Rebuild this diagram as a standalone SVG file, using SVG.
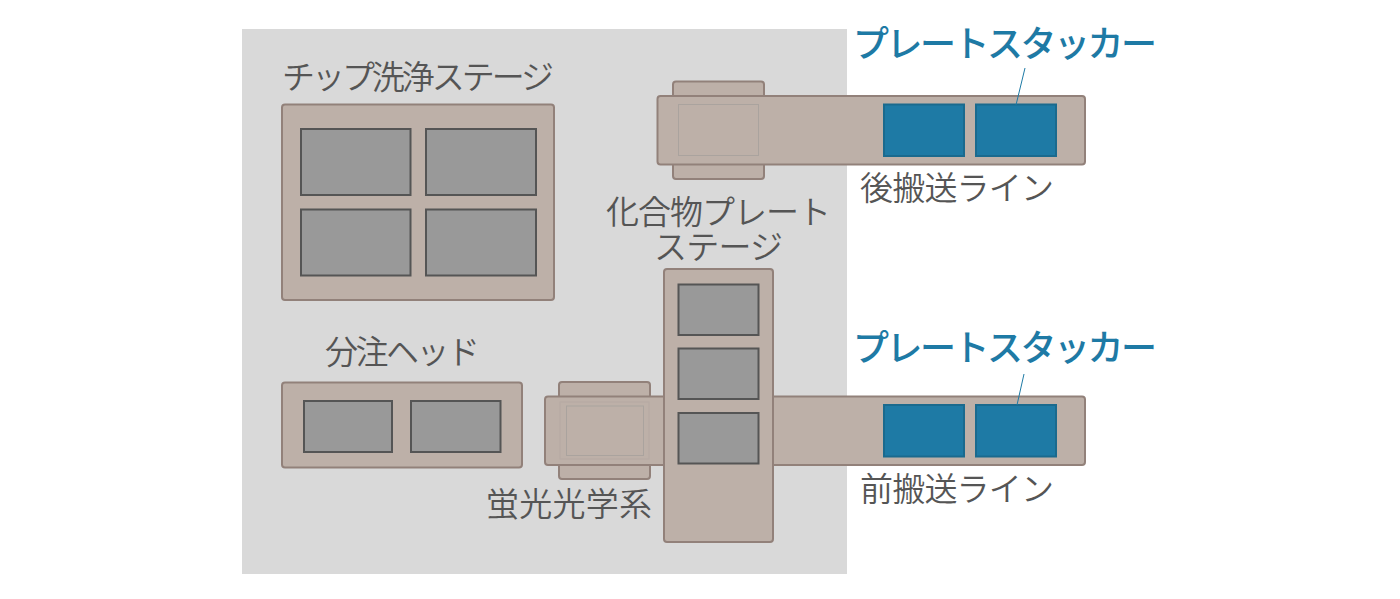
<svg xmlns="http://www.w3.org/2000/svg" width="1400" height="599" viewBox="0 0 1400 599">
<style>
.b{fill:#bdb0a8;stroke:#92817a;stroke-width:2}
.g{fill:#999;stroke:#555;stroke-width:2}
.s{fill:#1e7aa5;stroke:#1a6a8e;stroke-width:2}
.t{font-family:"Noto Sans CJK JP","Noto Sans",sans-serif;font-size:33px;fill:#555;font-weight:350}
.h{font-family:"Noto Sans CJK JP","Noto Sans",sans-serif;font-size:36px;fill:#1e7aa5;font-weight:500}
.f{fill:none;stroke:#aaa39e;stroke-width:1}
.l{fill:none;stroke:#1e7aa5;stroke-width:1}
</style>
<rect x="242" y="29" width="605" height="545" fill="#d9d9d9"/>
<g id="chip-wash-stage">
<rect class="b" x="282" y="104.500" width="272" height="195.500" rx="3"/>
<rect class="g" x="301" y="129" width="109.500" height="66"/>
<rect class="g" x="426" y="129" width="110" height="66"/>
<rect class="g" x="301" y="209.500" width="109.500" height="66"/>
<rect class="g" x="426" y="209.500" width="110" height="66"/>
<text class="t" x="282" y="89" textLength="272">チップ洗浄ステージ</text>
</g>
<g id="dispense-head">
<rect class="b" x="282" y="382.500" width="240" height="85" rx="3"/>
<rect class="g" x="304" y="401" width="88" height="51"/>
<rect class="g" x="411" y="401" width="89.500" height="51"/>
<text class="t" x="325" y="364" textLength="155">分注ヘッド</text>
</g>
<g id="rear-line">
<rect class="b" x="673" y="81.500" width="91" height="97.500" rx="3"/>
<rect class="b" x="657.500" y="96" width="427.500" height="68.500" rx="3"/>
<rect class="f" x="678.500" y="104.500" width="80" height="51"/>
<rect class="s" x="884" y="104.500" width="80" height="51.500"/>
<rect class="s" x="976" y="104.500" width="80" height="51.500"/>
<text class="t" x="860" y="200" textLength="194">後搬送ライン</text>
</g>
<g id="rear-stacker-label">
<text class="h" x="853" y="57" textLength="304">プレートスタッカー</text>
</g>
<g id="front-line">
<rect class="b" x="559" y="382" width="91" height="97" rx="3"/>
<rect class="b" x="545" y="396.500" width="540" height="68.500" rx="3"/>
<rect class="f" x="560" y="402" width="89" height="57" opacity=".4"/>
<rect class="f" x="566.500" y="406" width="77" height="49.500"/>
<rect class="s" x="884" y="405" width="80" height="51.500"/>
<rect class="s" x="976" y="405" width="80" height="51.500"/>
<text class="t" x="860" y="501" textLength="194">前搬送ライン</text>
</g>
<g id="front-stacker-label">
<text class="h" x="853" y="361" textLength="304">プレートスタッカー</text>
</g>
<g id="fluorescence-optics">
<text class="t" x="486" y="516" textLength="166">蛍光光学系</text>
</g>
<g id="compound-plate-stage">
<rect class="b" x="664" y="269" width="109" height="273" rx="3"/>
<rect class="g" x="678.500" y="284.500" width="80" height="50.500"/>
<rect class="g" x="678.500" y="348.500" width="80" height="50.500"/>
<rect class="g" x="678.500" y="413" width="80" height="50.500"/>
<text class="t" x="606" y="224" textLength="225">化合物プレート</text>
<text class="t" x="654" y="259" textLength="129">ステージ</text>
</g>
<g id="connectors">
<line class="l" x1="1025" y1="68" x2="1016" y2="105"/>
<line class="l" x1="1024" y1="374" x2="1017" y2="405"/>
</g>
</svg>
